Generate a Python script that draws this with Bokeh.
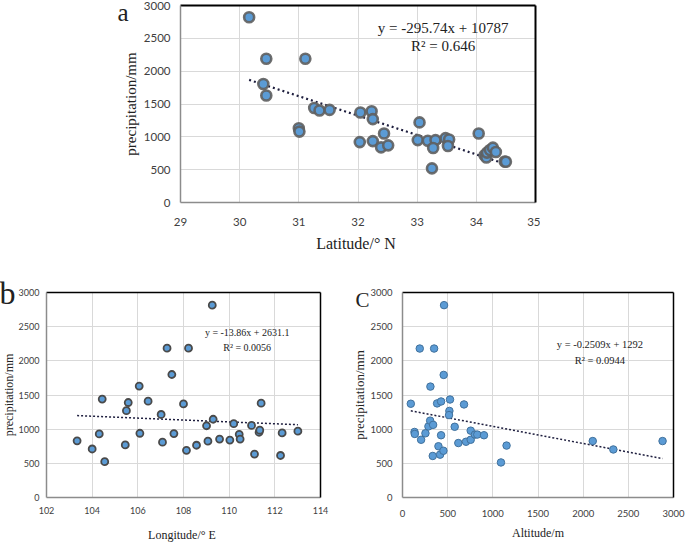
from bokeh.plotting import figure
from bokeh.layouts import column, row
from bokeh.models import Spacer, Label, FixedTicker, LinearAxis
from bokeh.embed import file_html
from bokeh.resources import INLINE

# ---- data ----
lat = [30.16, 30.45, 31.11, 30.40, 30.45, 31.26, 31.35, 31.52, 31.00, 31.01,
       32.04, 32.23, 32.25, 32.03, 32.25, 32.44, 32.39, 32.51, 33.04, 33.01,
       33.18, 33.31, 33.27, 33.25, 33.48, 33.54, 33.52, 34.04, 34.14, 34.17,
       34.18, 34.23, 34.28, 34.33, 34.48, 34.50]
precip_a = [2820, 2190, 2190, 1805, 1630, 1440, 1400, 1410, 1130, 1080,
            1370, 1390, 1270, 920, 935, 1050, 840, 870, 1220, 950,
            940, 950, 830, 520, 980, 960, 860, 1050, 720, 686,
            760, 800, 835, 770, 625, 620]

lon = [103.34, 104.0, 104.31, 104.44, 104.55, 105.45, 105.50, 105.58, 106.06, 106.09,
       106.45, 107.02, 107.08, 107.28, 107.49, 107.58, 108.0, 108.13, 108.22, 108.57,
       109.01, 109.07, 109.26, 109.30, 109.58, 110.03, 110.20, 110.44, 110.48, 110.98,
       111.11, 111.31, 111.34, 111.40, 112.25, 112.32, 113.01]
precip_b = [830, 710, 930, 1440, 525, 770, 1270, 1390, 1630, 940,
            1410, 1215, 810, 2185, 1800, 935, 1370, 690, 2185, 765,
            1050, 825, 2815, 1145, 855, 840, 1080, 925, 855, 1055,
            635, 955, 985, 1380, 615, 945, 970]

alt = [92, 133, 136, 191, 206, 254, 287, 306, 309, 339,
       335, 350, 383, 398, 416, 427, 427, 453, 456, 460,
       519, 515, 526, 578, 618, 681, 703, 755, 755, 802,
       828, 902, 1090, 1152, 2106, 2334, 2879]
precip_c = [1372, 959, 930, 2180, 845, 940, 1040, 1125, 1623, 1063,
            608, 2180, 1377, 750, 627, 1405, 911, 684, 1794, 2815,
            1267, 1206, 1434, 1035, 797, 1362, 816, 978, 845, 921,
            921, 911, 513, 760, 826, 703, 826]

slope_a, icpt_a = -295.74, 10787
slope_b, icpt_b = -13.86, 2631.1
slope_c, icpt_c = -0.2509, 1292

eq_a = ["y = -295.74x + 10787", "R\u00b2 = 0.646"]
eq_b = ["y = -13.86x + 2631.1", "R\u00b2 = 0.0056"]
eq_c = ["y = -0.2509x + 1292", "R\u00b2 = 0.0944"]

panel_letters = ["a", "b", "C"]

y_ticks = [0, 500, 1000, 1500, 2000, 2500, 3000]
x_ticks_a = [29, 30, 31, 32, 33, 34, 35]
x_ticks_b = [102, 104, 106, 108, 110, 112, 114]
x_ticks_c = [0, 500, 1000, 1500, 2000, 2500, 3000]

SERIF = "Liberation Serif"
SANS = "Lato"
FILL = "#5B9BD5"


def border_axis(p, side, lw):
    ax = LinearAxis(ticker=FixedTicker(ticks=[]), axis_line_color="black",
                    axis_line_width=lw, major_tick_out=0, major_tick_in=0,
                    minor_tick_out=0, minor_tick_in=0, major_label_standoff=0,
                    major_tick_line_color=None, minor_tick_line_color=None)
    p.add_layout(ax, side)


def letter_axis(p, letter, ypos, size, standoff):
    ax = LinearAxis(ticker=FixedTicker(ticks=[ypos]),
                    major_label_overrides={ypos: letter},
                    axis_line_color=None, major_tick_line_color=None,
                    minor_tick_line_color=None, major_tick_out=0, major_tick_in=0,
                    minor_tick_out=0, minor_tick_in=0,
                    major_label_standoff=standoff,
                    major_label_text_font=SERIF,
                    major_label_text_font_size=size,
                    major_label_text_color="#222222")
    p.add_layout(ax, "left")


def make_fig(width, height, xr, xticks, bl, br, bt, bb, tick_fs, ytitle_fs, xtitle_fs,
             xlab, ylab_standoff, xlab_standoff, ytick_standoff, xtick_standoff, frame_lw):
    p = figure(width=width, height=height, x_range=xr, y_range=(0, 3000),
               output_backend="svg", toolbar_location=None,
               min_border_left=bl, min_border_right=br, min_border_top=bt,
               min_border_bottom=bb)
    p.outline_line_color = None
    p.background_fill_color = "white"
    p.border_fill_color = "white"
    p.xaxis.ticker = FixedTicker(ticks=xticks)
    p.yaxis.ticker = FixedTicker(ticks=y_ticks)
    for ax in (p.xaxis[0], p.yaxis[0]):
        ax.major_tick_line_color = None
        ax.minor_tick_line_color = None
        ax.major_tick_out = 0
        ax.major_tick_in = 0
        ax.minor_tick_out = 0
        ax.minor_tick_in = 0
        ax.axis_line_color = "#8C8C8C"
        ax.axis_line_width = 1.5
        ax.major_label_text_font = SANS
        ax.major_label_text_font_size = tick_fs
        ax.major_label_text_color = "#404040"
        ax.axis_label_text_font = SERIF
        ax.axis_label_text_font_style = "normal"
        ax.axis_label_text_color = "#222222"
    p.xaxis.axis_label_text_font_size = xtitle_fs
    p.yaxis.axis_label_text_font_size = ytitle_fs
    p.xaxis.axis_label = xlab
    p.yaxis.axis_label = "precipitation/mm"
    p.yaxis.axis_label_standoff = ylab_standoff
    p.xaxis.axis_label_standoff = xlab_standoff
    p.yaxis.major_label_standoff = ytick_standoff
    p.xaxis.major_label_standoff = xtick_standoff
    p.xgrid.grid_line_color = "#D9D9D9"
    p.ygrid.grid_line_color = "#D9D9D9"
    p.xgrid.ticker = FixedTicker(ticks=xticks)
    p.ygrid.ticker = FixedTicker(ticks=y_ticks)
    border_axis(p, "above", frame_lw)
    border_axis(p, "right", frame_lw)
    return p


# ---- panel a (canvas starts 20px above the page so the letter can sit high) ----
pa = make_fig(430, 280, (29, 35), x_ticks_a, 70, 5, 25, 58, "11.5px", "15px", "16px",
              "Latitude/\u00b0  N", 2, 6, 10, 15, 2)
pa.margin = (-20, 0, 0, 0)
letter_axis(pa, panel_letters[0], 2897, "25px", -9)
xa = [min(lat), max(lat)]
pa.line(xa, [slope_a * v + icpt_a for v in xa], line_color="#1F1F3F",
        line_width=2.2, line_dash="2 3")
pa.scatter(lat, precip_a, size=10, fill_color=FILL, line_color="#5F5F5F",
           line_width=2.6, line_alpha=0.9)
pa.add_layout(Label(x=33.44, y=2664, text=eq_a[0], text_align="center",
                    text_baseline="middle", text_font=SERIF, text_font_size="15px",
                    text_color="#222222"))
pa.add_layout(Label(x=33.44, y=2390, text=eq_a[1], text_align="center",
                    text_baseline="middle", text_font=SERIF, text_font_size="15px",
                    text_color="#222222"))

# ---- panel b (shifted left so its frame starts at x=46) ----
pb = make_fig(359, 284, (102, 114), x_ticks_b, 70, 15, 32, 46, "9px", "12px", "12px",
              "Longitude/\u00b0  E", 0, 11, 7, 9, 1.5)
pb.margin = (0, 0, 0, -24)
letter_axis(pb, panel_letters[1], 3000, "32px", -17)
xb = [min(lon), max(lon)]
pb.line(xb, [slope_b * v + icpt_b for v in xb], line_color="#1F1F3F",
        line_width=1.5, line_dash="2 2")
pb.scatter(lon, precip_b, size=7, fill_color=FILL, line_color="#4A4A4A",
           line_width=1.8)
pb.add_layout(Label(x=110.79, y=2419, text=eq_b[0], text_align="center",
                    text_baseline="middle", text_font=SERIF, text_font_size="10px",
                    text_color="#222222"))
pb.add_layout(Label(x=110.79, y=2201, text=eq_b[1], text_align="center",
                    text_baseline="middle", text_font=SERIF, text_font_size="10px",
                    text_color="#222222"))

# ---- panel c ----
pc = make_fig(350, 284, (0, 3000), x_ticks_c, 67, 12, 30, 43, "9.5px", "13px", "12px",
              "Altitude/m", 0, 6, 10, 12, 1.5)
letter_axis(pc, panel_letters[2], 2890, "21px", -20)
xc = [min(alt), max(alt)]
pc.line(xc, [slope_c * v + icpt_c for v in xc], line_color="#1F1F3F",
        line_width=1.5, line_dash="2 2")
pc.scatter(alt, precip_c, size=7.5, fill_color=FILL, line_color="#41719C",
           line_width=1)
pc.add_layout(Label(x=2185, y=2241, text=eq_c[0], text_align="center",
                    text_baseline="middle", text_font=SERIF, text_font_size="10.5px",
                    text_color="#222222"))
pc.add_layout(Label(x=2185, y=2003, text=eq_c[1], text_align="center",
                    text_baseline="middle", text_font=SERIF, text_font_size="10.5px",
                    text_color="#222222"))

layout = column(row(Spacer(width=110, height=260), pa), row(pb, pc))

open("out.html", "w").write(file_html(layout, INLINE))
